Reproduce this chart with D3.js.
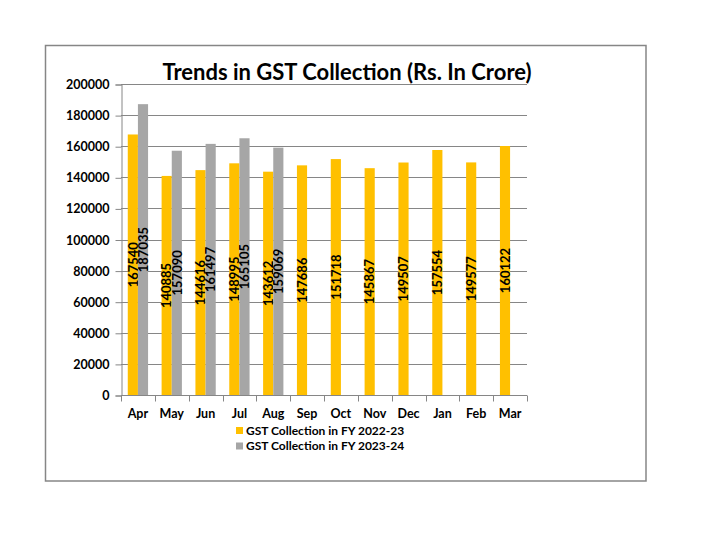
<!DOCTYPE html>
<html lang="en">
<head>
<meta charset="utf-8">
<title>Trends in GST Collection</title>
<script src="https://cdn.jsdelivr.net/npm/d3@7"></script>
<style>
  body { margin: 0; background: #fff; }
  text { font-family: Lato, "Open Sans", sans-serif; }
</style>
</head>
<body>
<script>
// data
var months = ["Apr", "May", "Jun", "Jul", "Aug", "Sep", "Oct", "Nov", "Dec", "Jan", "Feb", "Mar"];
var fy2223 = [167540, 140885, 144616, 148995, 143612, 147686, 151718, 145867, 149507, 157554, 149577, 160122];
var fy2324 = [187035, 157090, 161497, 165105, 159069];
var seriesNames = ["GST Collection in FY 2022-23", "GST Collection in FY 2023-24"];
var seriesColors = ["#FFC000", "#A6A6A6"];
var yTicks = [0, 20000, 40000, 60000, 80000, 100000, 120000, 140000, 160000, 180000, 200000];

var W = 720, H = 540;
var plot = {left: 121, right: 527, top: 84, bottom: 395};

var svg = d3.select("body").append("svg")
    .attr("width", W).attr("height", H);

// outer chart border
svg.append("rect")
    .attr("x", 45.5).attr("y", 45.5)
    .attr("width", 600.5).attr("height", 435.5)
    .attr("fill", "#fff").attr("stroke", "#868686").attr("stroke-width", 1.5);

svg.append("text")
    .attr("x", 347).attr("y", 80)
    .attr("text-anchor", "middle")
    .attr("font-size", 22).attr("font-weight", "bold")
    .text("Trends in GST Collection (Rs. In Crore)");

var x = d3.scaleBand().domain(months).range([plot.left, plot.right]).paddingInner(0.4).paddingOuter(0.2);
var x1 = d3.scaleBand().domain([0, 1]).range([0, x.bandwidth()]);
var y = d3.scaleLinear().domain([0, 200000]).range([plot.bottom, plot.top]);

// gridlines
svg.append("g").selectAll("line")
    .data(yTicks.slice(1))
    .enter().append("line")
    .attr("x1", plot.left).attr("x2", plot.right)
    .attr("y1", function(d) { return Math.round(y(d)) + 0.5; })
    .attr("y2", function(d) { return Math.round(y(d)) + 0.5; })
    .attr("stroke", "#868686").attr("stroke-width", 1);

// y axis
var yAxis = svg.append("g")
    .attr("transform", "translate(" + (plot.left + 0.5) + ",0.5)")
    .call(d3.axisLeft(y).tickValues(yTicks).tickSize(6).tickPadding(6).tickFormat(d3.format("d")));
yAxis.selectAll("path, line").attr("stroke", "#868686");
yAxis.selectAll("text").attr("font-size", 12.5).attr("font-weight", "bold").attr("fill", "#000")
    .attr("font-family", "Lato, sans-serif");

// x axis with ticks at band boundaries
var step = (plot.right - plot.left) / months.length;
var xAxis = svg.append("g").attr("transform", "translate(0," + (plot.bottom + 0.5) + ")");
xAxis.append("line").attr("x1", plot.left).attr("x2", plot.right).attr("stroke", "#868686");
xAxis.selectAll("line.tk")
    .data(d3.range(months.length + 1))
    .enter().append("line").attr("class", "tk")
    .attr("x1", function(i) { return Math.round(plot.left + i * step) + 0.5; })
    .attr("x2", function(i) { return Math.round(plot.left + i * step) + 0.5; })
    .attr("y1", 0).attr("y2", 6)
    .attr("stroke", "#868686");
xAxis.selectAll("text")
    .data(months)
    .enter().append("text")
    .attr("x", function(d) { return x(d) + x.bandwidth() / 2; })
    .attr("y", 22)
    .attr("text-anchor", "middle")
    .attr("font-size", 12.5).attr("font-weight", "bold")
    .text(function(d) { return d; });

// bars
var allSeries = [fy2223, fy2324];
allSeries.forEach(function(vals, s) {
    var g = svg.append("g");
    g.selectAll("rect")
        .data(vals)
        .enter().append("rect")
        .attr("x", function(d, i) { return x(months[i]) + x1(s); })
        .attr("y", function(d) { return y(d); })
        .attr("width", x1.bandwidth())
        .attr("height", function(d) { return y(0) - y(d); })
        .attr("fill", seriesColors[s]);

    g.selectAll("text")
        .data(vals)
        .enter().append("text")
        .attr("transform", function(d, i) {
            var cx = x(months[i]) + x1(s) + x1.bandwidth() / 2;
            var cy = (y(d) + y(0)) / 2;
            return "translate(" + cx + "," + cy + ") rotate(-90)";
        })
        .attr("text-anchor", "middle")
        .attr("dy", "0.36em")
        .attr("font-size", 13).attr("font-weight", "bold")
        .text(function(d) { return d; });
});

// legend
var legend = svg.append("g");
seriesNames.forEach(function(name, s) {
    legend.append("rect")
        .attr("x", 236).attr("y", 427 + s * 15.5)
        .attr("width", 7).attr("height", 7)
        .attr("fill", seriesColors[s]);
    legend.append("text")
        .attr("x", 246).attr("y", 434.5 + s * 15.5)
        .attr("font-size", 12).attr("font-weight", "bold")
        .text(name);
});
</script>
</body>
</html>
